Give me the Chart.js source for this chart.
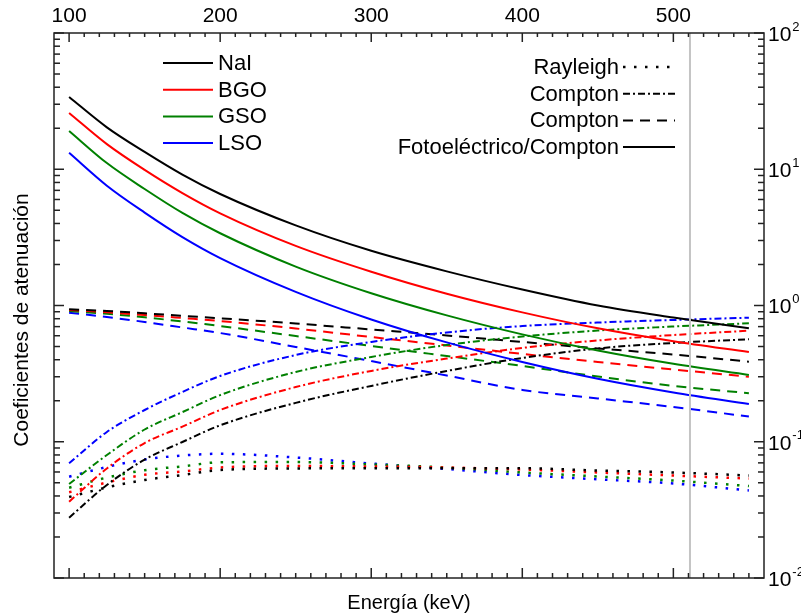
<!DOCTYPE html>
<html>
<head>
<meta charset="utf-8">
<script src="https://cdn.jsdelivr.net/npm/chart.js@4.4.0/dist/chart.umd.min.js"></script>
<style>
html, body { margin: 0; padding: 0; background: #fff; }
</style>
</head>
<body>
<canvas id="myChart" width="801" height="616"></canvas>
<script>
var energies = [100, 125, 150, 175, 200, 250, 300, 350, 400, 450, 500, 550];
var materials = ['NaI', 'BGO', 'GSO', 'LSO'];

// Fotoeléctrico/Compton (continua)
var totalNaI = [33.9, 20.3, 13.4, 9.13, 6.58, 3.87, 2.52, 1.78, 1.31, 1.00, 0.816, 0.68];
var totalBGO = [25.9, 15.3, 9.9, 6.69, 4.75, 2.74, 1.77, 1.22, 0.89, 0.68, 0.547, 0.456];
var totalGSO = [19.1, 11.1, 7.16, 4.78, 3.39, 1.93, 1.23, 0.846, 0.614, 0.467, 0.373, 0.309];
var totalLSO = [13.2, 7.57, 4.81, 3.18, 2.23, 1.26, 0.79, 0.536, 0.385, 0.290, 0.230, 0.189];

// Compton (punto-raya)
var comptonDotNaI = [0.0277, 0.0482, 0.0740, 0.0996, 0.132, 0.193, 0.257, 0.331, 0.412, 0.484, 0.531, 0.565];
var comptonDotBGO = [0.0363, 0.0637, 0.0979, 0.129, 0.171, 0.252, 0.331, 0.408, 0.488, 0.554, 0.607, 0.653];
var comptonDotGSO = [0.0490, 0.0799, 0.123, 0.165, 0.220, 0.325, 0.419, 0.513, 0.592, 0.655, 0.701, 0.740];
var comptonDotLSO = [0.0695, 0.118, 0.171, 0.232, 0.304, 0.433, 0.540, 0.634, 0.707, 0.750, 0.783, 0.814];

// Compton (rayas)
var comptonNaI = [0.938, 0.911, 0.877, 0.840, 0.806, 0.738, 0.667, 0.603, 0.540, 0.484, 0.437, 0.387];
var comptonBGO = [0.927, 0.892, 0.852, 0.810, 0.769, 0.678, 0.587, 0.509, 0.441, 0.385, 0.339, 0.300];
var comptonGSO = [0.911, 0.869, 0.819, 0.763, 0.707, 0.597, 0.504, 0.426, 0.360, 0.301, 0.257, 0.227];
var comptonLSO = [0.886, 0.823, 0.757, 0.690, 0.628, 0.496, 0.391, 0.306, 0.240, 0.208, 0.180, 0.153];

// Rayleigh (puntos)
var rayleighNaI = [0.0393, 0.0462, 0.0524, 0.0570, 0.0620, 0.0637, 0.0639, 0.0640, 0.0639, 0.0615, 0.0595, 0.0565];
var rayleighBGO = [0.0426, 0.0502, 0.0572, 0.0605, 0.0647, 0.0664, 0.0658, 0.0647, 0.0626, 0.0595, 0.0565, 0.0537];
var rayleighGSO = [0.0460, 0.0546, 0.0618, 0.0660, 0.0707, 0.0710, 0.0681, 0.0647, 0.0595, 0.0556, 0.0519, 0.0473];
var rayleighLSO = [0.0554, 0.0653, 0.0741, 0.0793, 0.0816, 0.0766, 0.0692, 0.0631, 0.0570, 0.0530, 0.0494, 0.0439];

var topTickLabels = [100, 200, 300, 400, 500];
var rightTickValues = [0.01, 0.1, 1, 10, 100];
var rightTickExps = ['-2', '-1', '0', '1', '2'];
var annihilationKeV = 511;
var processLabels = ['Rayleigh', 'Compton', 'Compton', 'Fotoeléctrico/Compton'];

var colors = ['#000000', '#ff0000', '#008000', '#0000ff'];
var FONT = "'Liberation Sans', Arial, sans-serif";
var DASHED = [10, 7];
var DASHDOT = [7, 3, 2, 3];
var DOTTED = [2.5, 8.5];

function pts(ys) {
    return energies.map(function (e, i) { return { x: e, y: ys[i] }; });
}

var groups = [
    { data: [totalNaI, totalBGO, totalGSO, totalLSO], dash: [], w: 2 },
    { data: [comptonDotNaI, comptonDotBGO, comptonDotGSO, comptonDotLSO], dash: DASHDOT, w: 2 },
    { data: [comptonNaI, comptonBGO, comptonGSO, comptonLSO], dash: DASHED, w: 2 },
    { data: [rayleighNaI, rayleighBGO, rayleighGSO, rayleighLSO], dash: DOTTED, w: 2.5 }
];

var datasets = [{
    label: '511 keV',
    data: [{ x: annihilationKeV, y: 0.01 }, { x: annihilationKeV, y: 100 }],
    borderColor: '#c4c4c4',
    borderWidth: 2
}];
groups.forEach(function (g) {
    g.data.forEach(function (ys, m) {
        datasets.push({
            label: materials[m],
            data: pts(ys),
            borderColor: colors[m],
            borderWidth: g.w,
            borderDash: g.dash,
            borderCapStyle: 'butt',
            cubicInterpolationMode: 'monotone'
        });
    });
});

function line(ctx, x1, y1, x2, y2) {
    ctx.beginPath(); ctx.moveTo(x1, y1); ctx.lineTo(x2, y2); ctx.stroke();
}

var decorations = {
    id: 'decorations',
    afterDatasetsDraw: function (chart) {
        var ctx = chart.ctx, a = chart.chartArea;
        var xs = chart.scales.x, ys = chart.scales.y;
        ctx.save();
        ctx.strokeStyle = '#222';
        ctx.lineWidth = 1.5;
        ctx.setLineDash([]);
        ctx.strokeRect(a.left, a.top, a.right - a.left, a.bottom - a.top);

        // x ticks, inward top and bottom
        for (var e = 100; e <= 550; e += 10) {
            var px = xs.getPixelForValue(e);
            var big = e % 100 === 0;
            line(ctx, px, a.bottom, px, a.bottom - (big ? 10 : 5));
            line(ctx, px, a.top, px, a.top + (big ? 9 : 4));
        }
        // y ticks, inward left and right
        for (var d = -2; d <= 1; d++) {
            for (var k = 1; k <= 9; k++) {
                var py = ys.getPixelForValue(k * Math.pow(10, d));
                var len = k === 1 ? 10 : 6;
                line(ctx, a.left, py, a.left + len, py);
                line(ctx, a.right, py, a.right - len, py);
            }
        }
        var pTop = ys.getPixelForValue(100);
        line(ctx, a.left, pTop, a.left + 10, pTop);
        line(ctx, a.right, pTop, a.right - 10, pTop);

        ctx.fillStyle = '#000';
        ctx.textBaseline = 'middle';
        // top labels
        ctx.font = '21px ' + FONT;
        ctx.textAlign = 'center';
        topTickLabels.forEach(function (v) {
            ctx.fillText(String(v), xs.getPixelForValue(v), 16);
        });
        // right labels with superscript
        rightTickValues.forEach(function (v, i) {
            var py = ys.getPixelForValue(v);
            ctx.textAlign = 'left';
            ctx.font = '21px ' + FONT;
            ctx.fillText('10', a.right + 4, py + 2);
            var w = ctx.measureText('10').width;
            ctx.font = '13px ' + FONT;
            ctx.fillText(rightTickExps[i], a.right + 5 + w, py - 6);
        });
        // axis titles
        ctx.font = '20px ' + FONT;
        ctx.textAlign = 'center';
        ctx.fillText('Energía (keV)', (a.left + a.right) / 2, 603);
        ctx.save();
        ctx.translate(22, 320);
        ctx.rotate(-Math.PI / 2);
        ctx.font = '21px ' + FONT;
        ctx.fillText('Coeficientes de atenuación', 0, 0);
        ctx.restore();

        // left legend (materials)
        ctx.font = '22px ' + FONT;
        ctx.textAlign = 'left';
        ctx.lineWidth = 2;
        materials.forEach(function (name, i) {
            var y = 63 + i * 26.7;
            ctx.strokeStyle = colors[i];
            line(ctx, 163, y, 213, y);
            ctx.fillText(name, 218, y + 1);
        });
        // right legend (processes)
        var dashes = [DOTTED, DASHDOT, DASHED, []];
        processLabels.forEach(function (name, i) {
            var y = 67 + i * 26.7;
            ctx.textAlign = 'right';
            ctx.fillText(name, 619, y + 1);
            ctx.strokeStyle = '#000';
            ctx.lineWidth = i === 0 ? 2.5 : 2;
            ctx.setLineDash(dashes[i]);
            line(ctx, 623, y, 675, y);
            ctx.setLineDash([]);
        });
        ctx.restore();
    }
};

var ctx = document.getElementById('myChart').getContext('2d');
var myChart = new Chart(ctx, {
    type: 'line',
    data: { datasets: datasets },
    options: {
        responsive: false,
        animation: false,
        layout: { padding: { left: 54, right: 37, top: 33, bottom: 38 } },
        elements: { point: { radius: 0 } },
        plugins: { legend: { display: false }, tooltip: { enabled: false } },
        scales: {
            x: { type: 'linear', min: 90, max: 560, display: false },
            y: { type: 'logarithmic', min: 0.01, max: 100, display: false }
        }
    },
    plugins: [decorations]
});
</script>
</body>
</html>
